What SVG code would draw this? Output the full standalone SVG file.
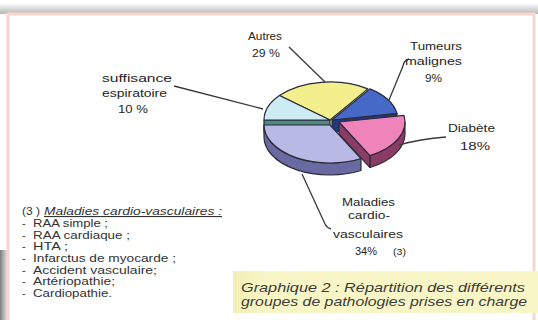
<svg xmlns="http://www.w3.org/2000/svg" width="538" height="320" viewBox="0 0 538 320">
<defs>
<linearGradient id="topShadow" x1="0" y1="0" x2="0" y2="1">
<stop offset="0" stop-color="#ffffff"/>
<stop offset="1" stop-color="#b8b8b8"/>
</linearGradient>
<linearGradient id="leftShadow" x1="0" y1="0" x2="1" y2="0">
<stop offset="0" stop-color="#7a7a7a"/>
<stop offset="1" stop-color="#d8d8d8" stop-opacity="0"/>
</linearGradient>
<linearGradient id="capBox" x1="0" y1="0" x2="1" y2="0">
<stop offset="0" stop-color="#f3efb4"/>
<stop offset="0.1" stop-color="#f8f5c6"/>
<stop offset="1" stop-color="#f8f5c6"/>
</linearGradient>
</defs>
<style>
.lbl{font-family:"Liberation Sans",Arial,sans-serif;font-size:11px;fill:#262626;}
.lst{font-family:"Liberation Sans",Arial,sans-serif;font-size:11px;fill:#333;}
.cap{font-family:"Liberation Sans",Arial,sans-serif;font-size:13.5px;font-style:italic;fill:#3c3c3c;}
.edge{stroke:#2b2b38;stroke-width:1.2;stroke-linejoin:round;}
.lead{fill:none;stroke:#3a3a3a;stroke-width:1.3;}
</style>
<rect x="0" y="0" width="538" height="320" fill="#ffffff"/>
<rect x="0" y="3" width="538" height="11" fill="url(#topShadow)"/>
<rect x="0" y="250" width="13" height="70" fill="url(#leftShadow)"/>
<rect x="8" y="14" width="526" height="310" fill="#ffffff" stroke="#f7d6cc" stroke-width="3"/>

<g id="pie">
<g id="slice-autres">
<path class="edge" fill="#f3ef8c" d="M330,120 L279.44,95.57 A66,38 0 0 1 367.86,88.87 Z"/>
</g>
<g id="slice-tumeurs">
<path class="edge" fill="#22387e" d="M332,120 L397,113.4 L397,125.4 L332,132 Z"/>
<path class="edge" fill="#4668c6" d="M332,120 L369.86,88.87 A66,38 0 0 1 397,113.4 Z"/>
</g>
<g id="slice-insuffisance">
<path class="edge" fill="#4f8a80" d="M330,120 L264,120 L264,132 L330,132 Z"/>
<path class="edge" fill="#cdebf2" d="M330,120 L264,120 A66,38 0 0 1 279.44,95.57 Z"/>
</g>
<g id="slice-diabete">
<path class="edge" fill="#8a3c66" d="M405,122 A66,38 0 0 1 369.99,155.55 L369.99,167.55 A66,38 0 0 0 405,134 Z"/>
<path class="edge" fill="#8a3c66" d="M339,122 L369.99,155.55 L369.99,167.55 L339,134 Z"/>
<path class="edge" fill="#ee84ba" d="M339,122 L404,115.4 A66,38 0 0 1 369.99,155.55 Z"/>
</g>
<g id="slice-cardio">
<path class="edge" fill="#6a6aa2" d="M360.99,158.55 A66,38 0 0 1 264,125 L264,137 A66,38 0 0 0 360.99,170.55 Z"/>
<path class="edge" fill="#b9b9e6" d="M330,125 L360.99,158.55 A66,38 0 0 1 264,125 Z"/>
</g>
</g>

<g id="connectors">
<path class="lead" d="M289,47 L325,82"/>
<path class="lead" d="M174,86 L263,109"/>
<path class="lead" d="M409,59 Q404,60 403,66 L389,100"/>
<path class="lead" d="M399,145 Q420,139 446,137"/>
<path class="lead" d="M302,174 L325,224 Q327,228 331,229"/>
</g>

<g id="label-autres">
<text class="lbl" x="248" y="39.5" textLength="34" lengthAdjust="spacingAndGlyphs">Autres</text>
<text class="lbl" x="252" y="56.5" textLength="28" lengthAdjust="spacingAndGlyphs">29 %</text>
</g>
<g id="label-tumeurs">
<text class="lbl" x="410" y="50" textLength="52" lengthAdjust="spacingAndGlyphs">Tumeurs</text>
<text class="lbl" x="405" y="65" textLength="57" lengthAdjust="spacingAndGlyphs">malignes</text>
<text class="lbl" x="425" y="82" textLength="17" lengthAdjust="spacingAndGlyphs">9%</text>
</g>
<g id="label-diabete">
<text class="lbl" x="448" y="132" textLength="47" lengthAdjust="spacingAndGlyphs">Diabète</text>
<text class="lbl" x="460" y="150" textLength="30" lengthAdjust="spacingAndGlyphs">18%</text>
</g>
<g id="label-insuffisance">
<text class="lbl" x="102" y="82" textLength="70" lengthAdjust="spacingAndGlyphs">suffisance</text>
<text class="lbl" x="102" y="97" textLength="65" lengthAdjust="spacingAndGlyphs">espiratoire</text>
<text class="lbl" x="118" y="113" textLength="30" lengthAdjust="spacingAndGlyphs">10 %</text>
</g>
<g id="label-cardio">
<text class="lbl" x="342" y="206" textLength="53" lengthAdjust="spacingAndGlyphs">Maladies</text>
<text class="lbl" x="348" y="219" textLength="42" lengthAdjust="spacingAndGlyphs">cardio-</text>
<text class="lbl" x="333" y="238" textLength="70" lengthAdjust="spacingAndGlyphs">vasculaires</text>
<text class="lbl" x="355" y="255" textLength="22" lengthAdjust="spacingAndGlyphs">34%</text>
<text class="lbl" x="393" y="255" style="font-size:9px" textLength="13" lengthAdjust="spacingAndGlyphs">(3)</text>
</g>

<g id="list">
<text class="lst" x="22" y="215" textLength="18" lengthAdjust="spacingAndGlyphs">(3 )</text>
<text class="lst" x="44" y="215" font-style="italic" text-decoration="underline" textLength="178" lengthAdjust="spacingAndGlyphs">Maladies cardio-vasculaires :</text>
<text class="lst" x="22" y="227">-</text><text class="lst" x="33" y="227" textLength="75" lengthAdjust="spacingAndGlyphs">RAA simple ;</text>
<text class="lst" x="22" y="239">-</text><text class="lst" x="33" y="239" textLength="97" lengthAdjust="spacingAndGlyphs">RAA cardiaque ;</text>
<text class="lst" x="22" y="250">-</text><text class="lst" x="33" y="250" textLength="35" lengthAdjust="spacingAndGlyphs">HTA ;</text>
<text class="lst" x="22" y="262">-</text><text class="lst" x="33" y="262" textLength="143" lengthAdjust="spacingAndGlyphs">Infarctus de myocarde ;</text>
<text class="lst" x="22" y="274">-</text><text class="lst" x="33" y="274" textLength="124" lengthAdjust="spacingAndGlyphs">Accident vasculaire;</text>
<text class="lst" x="22" y="285">-</text><text class="lst" x="33" y="285" textLength="82" lengthAdjust="spacingAndGlyphs">Artériopathie;</text>
<text class="lst" x="22" y="297">-</text><text class="lst" x="33" y="297" textLength="79" lengthAdjust="spacingAndGlyphs">Cardiopathie.</text>
</g>

<g id="caption">
<rect x="233" y="271" width="305" height="42" fill="url(#capBox)"/>
<text class="cap" x="241" y="292" textLength="284" lengthAdjust="spacingAndGlyphs">Graphique 2 : Répartition des différents</text>
<text class="cap" x="241" y="306" textLength="286" lengthAdjust="spacingAndGlyphs">groupes de pathologies prises en charge</text>
</g>
</svg>
